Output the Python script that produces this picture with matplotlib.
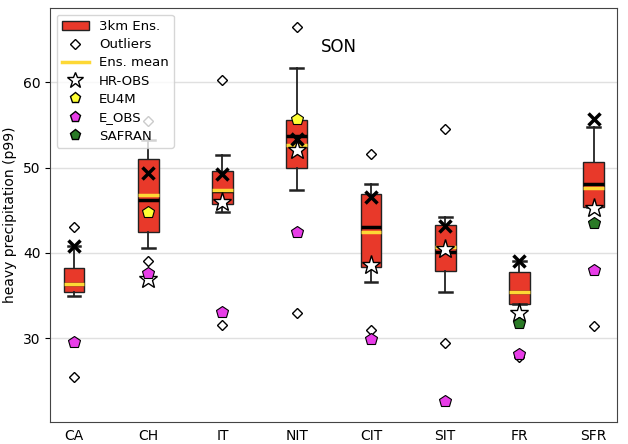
import matplotlib
matplotlib.use("Agg")
import matplotlib.pyplot as plt
from matplotlib.lines import Line2D
from matplotlib.patches import Patch

regions = ["CA", "CH", "IT", "NIT", "CIT", "SIT", "FR", "SFR"]

# 3km ensemble box statistics
q1 = [35.4, 42.5, 45.7, 50.0, 38.4, 37.9, 34.0, 45.4]
q3 = [38.2, 51.0, 49.6, 55.6, 46.9, 43.3, 37.7, 50.6]
median = [36.4, 46.2, 47.3, 53.7, 43.0, 40.1, 35.4, 48.1]
ens_mean = [36.4, 46.8, 47.4, 52.7, 42.5, 40.7, 35.4, 47.6]
whis_lo = [35.0, 40.55, 44.8, 47.4, 36.6, 35.4, 34.0, 45.4]
whis_hi = [40.8, 53.2, 51.5, 61.7, 48.1, 44.2, 39.1, 54.8]
outliers = [[43.0, 25.4], [55.4, 39.1], [60.3, 31.6], [66.5, 32.9],
            [51.6, 31.0], [54.5, 29.4], [27.8], [31.4]]

# single-member marker (black cross)
member_x = [40.8, 49.4, 49.2, 53.3, 46.6, 43.1, 39.1, 55.7]

# observational references (None = not available)
hr_obs = [None, 36.9, 46.0, 52.0, 38.6, 40.5, 33.0, 45.3]
eu4m = [None, 44.8, None, 55.7, None, None, None, None]
e_obs = [29.5, 37.6, 33.1, 42.5, 29.9, 22.6, 28.2, 38.0]
safran = [None, None, None, None, None, None, 31.8, 43.5]

box_color = "#e8392a"
mean_color = "#fdd835"
eu4m_color = "#ffff33"
eobs_color = "#e83de8"
safran_color = "#2a7a26"

fig, ax = plt.subplots(figsize=(6.28, 4.44), dpi=100)
fig.subplots_adjust(left=0.08, right=0.982, top=0.982, bottom=0.05)

pos = list(range(1, len(regions) + 1))
stats = []
for i, name in enumerate(regions):
    stats.append(dict(label=name, med=median[i], q1=q1[i], q3=q3[i],
                      whislo=whis_lo[i], whishi=whis_hi[i],
                      fliers=outliers[i], mean=ens_mean[i]))

ax.bxp(stats, positions=pos, widths=0.28, patch_artist=True,
       showmeans=True, meanline=True,
       boxprops=dict(facecolor=box_color, edgecolor="#222222", linewidth=1.0),
       medianprops=dict(color="black", linewidth=2.5),
       meanprops=dict(color=mean_color, linestyle="-", linewidth=2.5),
       whiskerprops=dict(color="#222222", linewidth=1.3),
       capprops=dict(color="#222222", linewidth=1.8),
       capwidths=0.17,
       flierprops=dict(marker="D", markersize=4.8, markerfacecolor="white",
                       markeredgecolor="black", markeredgewidth=1.0),
       zorder=2)

ax.plot(pos, member_x, linestyle="none", marker="x", markersize=9,
        markeredgewidth=2.5, color="black", zorder=4)


def scatter_obs(values, **kw):
    xs = [p for p, v in zip(pos, values) if v is not None]
    ys = [v for v in values if v is not None]
    ax.plot(xs, ys, linestyle="none", zorder=5, **kw)


scatter_obs(hr_obs, marker="*", markersize=14, markerfacecolor="white",
            markeredgecolor="black", markeredgewidth=1.0)
scatter_obs(eu4m, marker="p", markersize=9, markerfacecolor=eu4m_color,
            markeredgecolor="black", markeredgewidth=0.8)
scatter_obs(e_obs, marker="p", markersize=9, markerfacecolor=eobs_color,
            markeredgecolor="black", markeredgewidth=0.8)
scatter_obs(safran, marker="p", markersize=9, markerfacecolor=safran_color,
            markeredgecolor="black", markeredgewidth=0.8)

ax.set_xlim(0.68, 8.31)
ax.set_ylim(20.2, 68.7)
ax.set_yticks([30, 40, 50, 60])
ax.set_xticks(pos)
ax.set_xticklabels(regions)
ax.tick_params(axis="x", length=0, pad=5)
ax.yaxis.grid(True, color="#e0e0e0", linewidth=1.0)
ax.set_axisbelow(True)
ax.set_ylabel("heavy precipitation (p99)", fontsize=10)
for sp in ax.spines.values():
    sp.set_color("#444444")

ax.text(0.51, 0.905, "SON", transform=ax.transAxes, fontsize=12,
        ha="center", va="center")

handles = [
    Patch(facecolor=box_color, edgecolor="#222222", label="3km Ens."),
    Line2D([], [], linestyle="none", marker="D", markersize=5,
           markerfacecolor="white", markeredgecolor="black", label="Outliers"),
    Line2D([], [], color=mean_color, linewidth=2.5, label="Ens. mean"),
    Line2D([], [], linestyle="none", marker="*", markersize=12,
           markerfacecolor="white", markeredgecolor="black", label="HR-OBS"),
    Line2D([], [], linestyle="none", marker="p", markersize=8,
           markerfacecolor=eu4m_color, markeredgecolor="black", label="EU4M"),
    Line2D([], [], linestyle="none", marker="p", markersize=8,
           markerfacecolor=eobs_color, markeredgecolor="black", label="E_OBS"),
    Line2D([], [], linestyle="none", marker="p", markersize=8,
           markerfacecolor=safran_color, markeredgecolor="black", label="SAFRAN"),
]
ax.legend(handles=handles, loc="upper left", fontsize=9.5, framealpha=0.8,
          handlelength=2.0, borderpad=0.4, labelspacing=0.4)

fig.savefig("out.png", dpi=100)
